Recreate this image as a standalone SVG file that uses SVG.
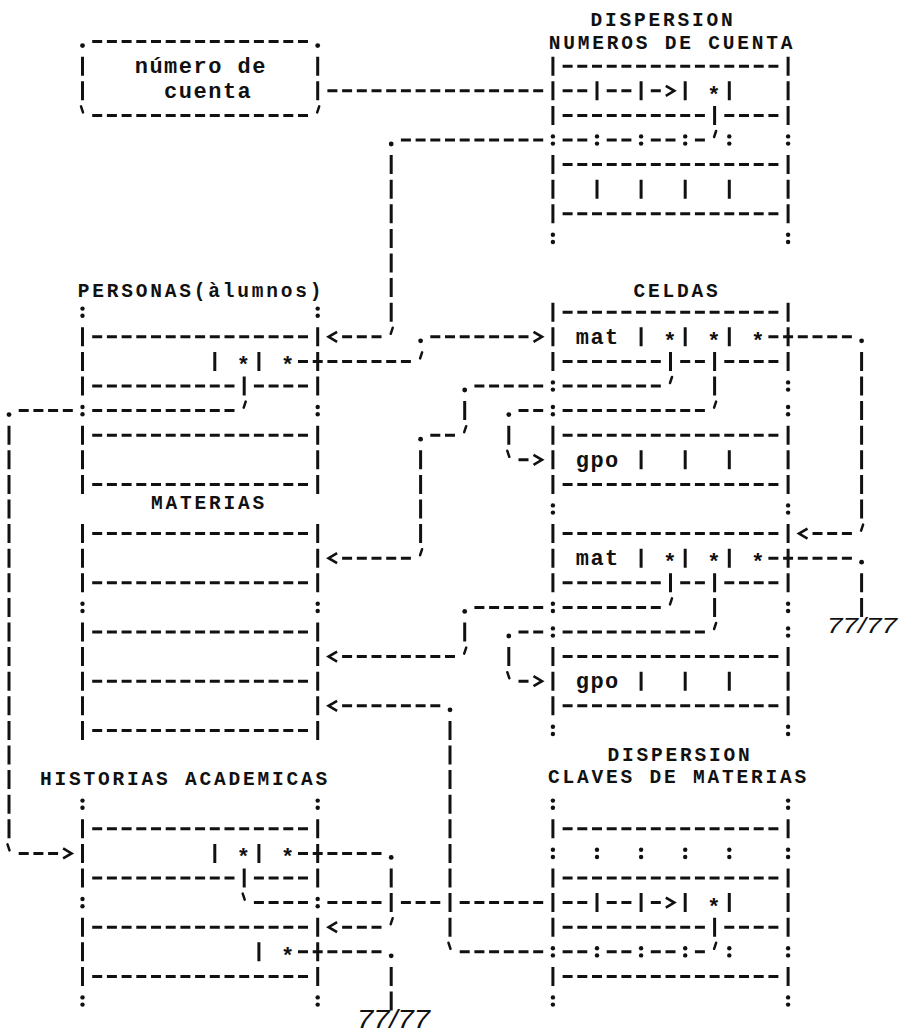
<svg xmlns="http://www.w3.org/2000/svg" xmlns:xlink="http://www.w3.org/1999/xlink" width="907" height="1034" viewBox="0 0 907 1034">
<style>
.h{fill:none;stroke:#111;stroke-width:3;stroke-dasharray:10 4.7}
.v{fill:none;stroke:#111;stroke-width:3;stroke-dasharray:19 5.6}
.t{font-family:"Liberation Mono","DejaVu Sans Mono",monospace;font-weight:bold;font-size:22px;letter-spacing:1.5px;fill:#111}
.tt{font-family:"Liberation Mono","DejaVu Sans Mono",monospace;font-weight:bold;font-size:19.5px;letter-spacing:2.8px;fill:#111;text-anchor:middle}
.m{text-anchor:middle}
.g{font-family:"Liberation Sans","DejaVu Sans",sans-serif;font-style:italic;fill:#111;text-anchor:middle}
.tick{fill:none;stroke:#111;stroke-width:2.5;stroke-linecap:round}
</style>
<defs>
<g id="colon"><circle cy="-3.6" r="2.2" fill="#111"/><circle cy="3.6" r="2.2" fill="#111"/></g>
<circle id="dot" cy="4" r="2.4" fill="#111"/>
<path id="tq" class="tick" d="M1.5,-9 L-0.5,-3"/>
<path id="bq" class="tick" d="M-1.5,-9 L0.5,-3"/>
<marker id="arr" viewBox="0 -8 18 16" refX="0" refY="0" markerWidth="18" markerHeight="16" markerUnits="userSpaceOnUse" orient="auto"><path d="M5,-5 L13.5,0 L5,5" fill="none" stroke="#111" stroke-width="2.6"/></marker>
</defs>
<rect width="907" height="1034" fill="#fff"/>

<g id="numero-de-cuenta">
<path class="h" d="M92.2 41.6H308M92.2 115.4H308"/>
<path class="v" d="M82.5 56.7V100.3M317.7 56.7V100.3"/>
<use href="#dot" x="82.5" y="41.6"/><use href="#dot" x="317.7" y="41.6"/>
<use href="#bq" x="82.5" y="115.4"/><use href="#tq" x="317.7" y="115.4"/>
<text class="t" x="134.7" y="73.2">número de</text>
<text class="t" x="164.1" y="97.8">cuenta</text>
</g>

<g id="dispersion-numeros-de-cuenta">
<text class="tt" x="663" y="26">DISPERSION</text>
<text class="tt" x="672" y="49">NUMEROS DE CUENTA</text>
<path class="v" d="M552.9 56.7V124.9M552.9 155.1V223.3M788.1 56.7V124.9M788.1 155.1V223.3M597 81.3V100.3M641.1 81.3V100.3M685.2 81.3V100.3M729.3 81.3V100.3M597 179.7V198.7M641.1 179.7V198.7M685.2 179.7V198.7M729.3 179.7V198.7"/>
<path class="h" d="M562.6 66.2H778.4M562.6 115.4H704.9M724.3 115.4H778.4M562.6 164.6H778.4M562.6 213.8H778.4"/>
<use href="#colon" x="552.9" y="140"/><use href="#colon" x="597" y="140"/><use href="#colon" x="641.1" y="140"/><use href="#colon" x="685.2" y="140"/><use href="#colon" x="729.3" y="140"/><use href="#colon" x="788.1" y="140"/>
<use href="#colon" x="552.9" y="238.4"/><use href="#colon" x="788.1" y="238.4"/>
<text class="t m" x="714.6" y="101.8">*</text>
</g>

<g id="personas">
<text class="tt" x="201" y="297">PERSONAS(àlumnos)</text>
<path class="v" d="M82.5 327.3V395.5M82.5 425.7V493.9M317.7 327.3V395.5M317.7 425.7V493.9M214.8 351.9V370.9M258.9 351.9V370.9"/>
<path class="h" d="M92.2 336.8H308M92.2 386H234.5M253.9 386H308M92.2 435.2H308M92.2 484.4H308"/>
<use href="#colon" x="82.5" y="312.2"/><use href="#colon" x="317.7" y="312.2"/><use href="#colon" x="82.5" y="410.6"/><use href="#colon" x="317.7" y="410.6"/>
<text class="t m" x="244.2" y="372.4">*</text><text class="t m" x="288.3" y="372.4">*</text>
</g>

<g id="celdas">
<text class="tt" x="677" y="297">CELDAS</text>
<path class="v" d="M552.9 302.7V370.9M552.9 425.7V493.9M552.9 524.1V592.3M552.9 647.1V715.3M788.1 302.7V370.9M788.1 425.7V493.9M788.1 524.1V592.3M788.1 647.1V715.3M641.1 327.3V346.3M685.2 327.3V346.3M729.3 327.3V346.3M641.1 450.3V469.3M685.2 450.3V469.3M729.3 450.3V469.3M641.1 548.7V567.7M685.2 548.7V567.7M729.3 548.7V567.7M641.1 671.7V690.7M685.2 671.7V690.7M729.3 671.7V690.7"/>
<path class="h" d="M562.6 312.2H778.4M562.6 435.2H778.4M562.6 484.4H778.4M562.6 533.6H778.4M562.6 656.6H778.4M562.6 705.8H778.4M562.6 361.4H660.8M680.2 361.4H704.9M724.3 361.4H778.4M562.6 582.8H660.8M680.2 582.8H704.9M724.3 582.8H778.4"/>
<use href="#colon" x="552.9" y="386"/><use href="#colon" x="788.1" y="386"/><use href="#colon" x="552.9" y="410.6"/><use href="#colon" x="788.1" y="410.6"/>
<use href="#colon" x="552.9" y="509"/><use href="#colon" x="788.1" y="509"/>
<use href="#colon" x="552.9" y="607.4"/><use href="#colon" x="788.1" y="607.4"/><use href="#colon" x="552.9" y="632"/><use href="#colon" x="788.1" y="632"/>
<use href="#colon" x="552.9" y="730.4"/><use href="#colon" x="788.1" y="730.4"/>
<text class="t" x="575.7" y="343.8">mat</text>
<text class="t" x="575.7" y="466.8">gpo</text>
<text class="t" x="575.7" y="565.2">mat</text>
<text class="t" x="575.7" y="688.2">gpo</text>
<text class="t m" x="670.5" y="347.8">*</text><text class="t m" x="714.6" y="347.8">*</text><text class="t m" x="758.7" y="347.8">*</text>
<text class="t m" x="670.5" y="569.2">*</text><text class="t m" x="714.6" y="569.2">*</text><text class="t m" x="758.7" y="569.2">*</text>
</g>

<g id="materias">
<text class="tt" x="209" y="509">MATERIAS</text>
<path class="v" d="M82.5 524.1V592.3M82.5 622.5V739.9M317.7 524.1V592.3M317.7 622.5V739.9"/>
<path class="h" d="M92.2 533.6H308M92.2 582.8H308M92.2 632H308M92.2 681.2H308M92.2 730.4H308"/>
<use href="#colon" x="82.5" y="607.4"/><use href="#colon" x="317.7" y="607.4"/>
</g>

<g id="historias-academicas">
<text class="tt" x="185" y="785">HISTORIAS ACADEMICAS</text>
<path class="v" d="M82.5 819.3V887.5M82.5 917.7V985.9M317.7 819.3V887.5M317.7 917.7V985.9M214.8 843.9V862.9M258.9 843.9V862.9M258.9 942.3V961.3"/>
<path class="h" d="M92.2 828.8H308M92.2 878H234.5M253.9 878H308M92.2 927.2H308M92.2 976.4H308"/>
<use href="#colon" x="82.5" y="804.2"/><use href="#colon" x="317.7" y="804.2"/><use href="#colon" x="82.5" y="902.6"/><use href="#colon" x="317.7" y="902.6"/><use href="#colon" x="82.5" y="1001"/><use href="#colon" x="317.7" y="1001"/>
<text class="t m" x="244.2" y="864.4">*</text><text class="t m" x="288.3" y="864.4">*</text><text class="t m" x="288.3" y="962.8">*</text>
</g>

<g id="dispersion-claves-de-materias">
<text class="tt" x="680" y="761">DISPERSION</text>
<text class="tt" x="678.5" y="783">CLAVES DE MATERIAS</text>
<path class="v" d="M552.9 819.3V838.3M552.9 868.5V936.7M552.9 966.9V985.9M788.1 819.3V838.3M788.1 868.5V936.7M788.1 966.9V985.9M597 893.1V912.1M641.1 893.1V912.1M685.2 893.1V912.1M729.3 893.1V912.1"/>
<path class="h" d="M562.6 828.8H778.4M562.6 878H778.4M562.6 976.4H778.4M562.6 927.2H704.9M724.3 927.2H778.4"/>
<use href="#colon" x="552.9" y="804.2"/><use href="#colon" x="788.1" y="804.2"/>
<use href="#colon" x="552.9" y="853.4"/><use href="#colon" x="597" y="853.4"/><use href="#colon" x="641.1" y="853.4"/><use href="#colon" x="685.2" y="853.4"/><use href="#colon" x="729.3" y="853.4"/><use href="#colon" x="788.1" y="853.4"/>
<use href="#colon" x="552.9" y="951.8"/><use href="#colon" x="597" y="951.8"/><use href="#colon" x="641.1" y="951.8"/><use href="#colon" x="685.2" y="951.8"/><use href="#colon" x="729.3" y="951.8"/><use href="#colon" x="788.1" y="951.8"/>
<use href="#colon" x="552.9" y="1001"/><use href="#colon" x="788.1" y="1001"/>
<text class="t m" x="714.6" y="913.6">*</text>
</g>

<g id="connectors">
<g id="c1">
<path class="h" d="M327.4 90.8H543.2M562.6 90.8H587.3M606.7 90.8H631.4M650.8 90.8H660.8" marker-end="url(#arr)"/>
</g>
<g id="c2">
<path class="v" d="M714.6 105.9V124.9M391.2 155.1V321.7"/>
<use href="#tq" x="714.6" y="140"/><use href="#dot" x="391.2" y="140"/><use href="#tq" x="391.2" y="336.8"/>
<path class="h" d="M704.9 140H694.9M675.5 140H650.8M631.4 140H606.7M587.3 140H562.6M543.2 140H400.9M381.5 336.8H342.1" marker-end="url(#arr)"/>
</g>
<g id="c3">
<use href="#tq" x="420.6" y="361.4"/><use href="#dot" x="420.6" y="336.8"/>
<path class="h" d="M298 361.4H410.9M430.3 336.8H528.5" marker-end="url(#arr)"/>
</g>
<g id="c4">
<path class="v" d="M244.2 376.5V395.5M9 425.7V838.3"/>
<use href="#tq" x="244.2" y="410.6"/><use href="#dot" x="9" y="410.6"/><use href="#bq" x="9" y="853.4"/>
<path class="h" d="M234.5 410.6H92.2M72.8 410.6H18.7M18.7 853.4H58.1" marker-end="url(#arr)"/>
</g>
<g id="c5">
<path class="v" d="M670.5 351.9V370.9M464.7 401.1V420.1M420.6 450.3V543.1"/>
<use href="#tq" x="670.5" y="386"/><use href="#dot" x="464.7" y="386"/><use href="#tq" x="464.7" y="435.2"/><use href="#dot" x="420.6" y="435.2"/><use href="#tq" x="420.6" y="558.2"/>
<path class="h" d="M660.8 386H562.6M543.2 386H474.4M455 435.2H430.3M410.9 558.2H342.1" marker-end="url(#arr)"/>
</g>
<g id="c6">
<path class="v" d="M714.6 351.9V395.5M508.8 425.7V444.7"/>
<use href="#tq" x="714.6" y="410.6"/><use href="#dot" x="508.8" y="410.6"/><use href="#bq" x="508.8" y="459.8"/>
<path class="h" d="M704.9 410.6H562.6M543.2 410.6H518.5M518.5 459.8H528.5" marker-end="url(#arr)"/>
</g>
<g id="c7">
<path class="v" d="M861.6 351.9V518.5"/>
<use href="#dot" x="861.6" y="336.8"/><use href="#tq" x="861.6" y="533.6"/>
<path class="h" d="M768.4 336.8H851.9M851.9 533.6H812.5" marker-end="url(#arr)"/>
</g>
<g id="c8">
<path class="v" d="M670.5 573.3V592.3M464.7 622.5V641.5"/>
<use href="#tq" x="670.5" y="607.4"/><use href="#dot" x="464.7" y="607.4"/><use href="#tq" x="464.7" y="656.6"/>
<path class="h" d="M660.8 607.4H562.6M543.2 607.4H474.4M455 656.6H342.1" marker-end="url(#arr)"/>
</g>
<g id="c9">
<path class="v" d="M714.6 573.3V616.9M508.8 647.1V666.1"/>
<use href="#tq" x="714.6" y="632"/><use href="#dot" x="508.8" y="632"/><use href="#bq" x="508.8" y="681.2"/>
<path class="h" d="M704.9 632H562.6M543.2 632H518.5M518.5 681.2H528.5" marker-end="url(#arr)"/>
</g>
<g id="c10">
<path class="h" d="M768.4 558.2H851.9"/>
<use href="#dot" x="861.6" y="558.2"/>
<path class="v" d="M861.6 573.3V616.9"/>
<text class="g" x="862" y="633" font-size="22" textLength="70" lengthAdjust="spacingAndGlyphs">77/77</text>
</g>
<g id="c11">
<path class="v" d="M244.2 868.5V887.5"/>
<use href="#bq" x="244.2" y="902.6"/>
<path class="h" d="M253.9 902.6H308M327.4 902.6H381.5M400.9 902.6H440.3M459.7 902.6H543.2M562.6 902.6H587.3M606.7 902.6H631.4M650.8 902.6H660.8" marker-end="url(#arr)"/>
</g>
<g id="c12">
<use href="#dot" x="391.2" y="853.4"/><use href="#tq" x="391.2" y="927.2"/>
<path class="v" d="M391.2 868.5V912.1"/>
<path class="h" d="M298 853.4H381.5M381.5 927.2H342.1" marker-end="url(#arr)"/>
</g>
<g id="c13">
<path class="v" d="M714.6 917.7V936.7M450 720.9V936.7"/>
<use href="#tq" x="714.6" y="951.8"/><use href="#bq" x="450" y="951.8"/><use href="#dot" x="450" y="705.8"/>
<path class="h" d="M704.9 951.8H694.9M675.5 951.8H650.8M631.4 951.8H606.7M587.3 951.8H562.6M543.2 951.8H459.7M440.3 705.8H342.1" marker-end="url(#arr)"/>
</g>
<g id="c14">
<path class="h" d="M298 951.8H381.5"/>
<use href="#dot" x="391.2" y="951.8"/>
<path class="v" d="M391.2 966.9V1010.5"/>
<text class="g" x="393.5" y="1028" font-size="25" textLength="73" lengthAdjust="spacingAndGlyphs">77/77</text>
</g>
</g>
</svg>
